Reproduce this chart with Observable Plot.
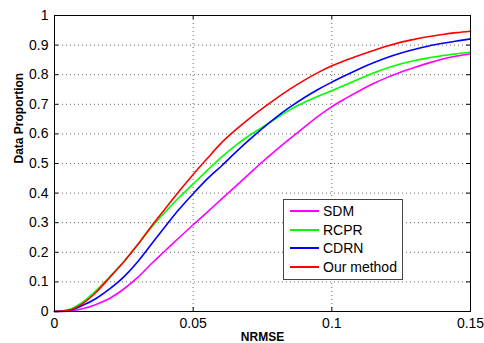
<!DOCTYPE html>
<html>
<head>
<meta charset="utf-8">
<script src="https://cdn.jsdelivr.net/npm/d3@7"></script>
<script src="https://cdn.jsdelivr.net/npm/@observablehq/plot@0.6"></script>
<style>
  html, body { margin: 0; padding: 0; background: #fff; }
  #wrap { position: relative; width: 484px; height: 343px; font-family: "Liberation Sans", Arial, sans-serif; }
  #legend { position: absolute; left: 283px; top: 199px; width: 118px; height: 77px; background: #fff;
            border: 1px solid #444; box-sizing: content-box; padding-top: 2px; }
  .row { display: flex; align-items: center; height: 18.5px; font-size: 14px; color: #000; }
  .sw { width: 29px; height: 2px; margin-left: 6px; margin-right: 4px; }
</style>
</head>
<body>
<div id="wrap"></div>
<script>
// ---- data ----
const methods = ["SDM", "RCPR", "CDRN", "Our method"];
const colors = ["#ff00ff", "#00ff00", "#0000ff", "#ff0000"];
const nrmse = [0, 0.005, 0.01, 0.015, 0.02, 0.025, 0.03, 0.035, 0.04, 0.045, 0.05, 0.055, 0.06, 0.065, 0.07, 0.075,
               0.08, 0.085, 0.09, 0.095, 0.1, 0.105, 0.11, 0.115, 0.12, 0.125, 0.13, 0.135, 0.14, 0.145, 0.15];
const sdm = [0, 0.001, 0.009, 0.024, 0.045, 0.076, 0.115, 0.162, 0.206, 0.25, 0.293, 0.335, 0.378, 0.42, 0.463, 0.506,
             0.546, 0.585, 0.622, 0.659, 0.692, 0.72, 0.746, 0.77, 0.791, 0.809, 0.825, 0.84, 0.853, 0.863, 0.871];
const rcpr = [0, 0.006, 0.031, 0.071, 0.118, 0.168, 0.225, 0.285, 0.337, 0.386, 0.431, 0.476, 0.52, 0.559, 0.593, 0.623,
              0.653, 0.682, 0.706, 0.727, 0.746, 0.766, 0.786, 0.806, 0.823, 0.837, 0.848, 0.857, 0.865, 0.871, 0.876];
const cdrn = [0, 0.003, 0.02, 0.044, 0.077, 0.117, 0.168, 0.228, 0.288, 0.346, 0.398, 0.447, 0.49, 0.535, 0.578, 0.619,
              0.657, 0.691, 0.722, 0.75, 0.775, 0.798, 0.82, 0.84, 0.858, 0.873, 0.886, 0.897, 0.906, 0.914, 0.921];
const ours = [0, 0.004, 0.026, 0.065, 0.116, 0.168, 0.226, 0.289, 0.348, 0.407, 0.463, 0.516, 0.568, 0.611, 0.65, 0.686,
              0.72, 0.752, 0.781, 0.807, 0.83, 0.849, 0.866, 0.882, 0.897, 0.91, 0.92, 0.929, 0.936, 0.942, 0.947];
const xTicks = [0, 0.05, 0.1, 0.15];
const yTicks = [0, 0.1, 0.2, 0.3, 0.4, 0.5, 0.6, 0.7, 0.8, 0.9, 1];
const xLabel = "NRMSE";
const yLabel = "Data Proportion";

// ---- build ----
const series = [sdm, rcpr, cdrn, ours];
const rows = [];
series.forEach((vals, i) => vals.forEach((v, j) => rows.push({x: nrmse[j], y: v, method: methods[i]})));

const W = 484, H = 343, mt = 15, mr = 14, mb = 32, ml = 54;
const pw = W - ml - mr, ph = H - mt - mb;
const tick = 4;

const chart = Plot.plot({
  width: W, height: H,
  marginTop: mt, marginRight: mr, marginBottom: mb, marginLeft: ml,
  style: {fontFamily: "'Liberation Sans', Arial, sans-serif", fontSize: "14px", color: "#000", background: "#fff"},
  x: {domain: [0, 0.15]},
  y: {domain: [0, 1]},
  color: {domain: methods, range: colors},
  marks: [
    Plot.gridX({ticks: xTicks.slice(1, -1), stroke: "#666", strokeOpacity: 1, strokeDasharray: "1,3"}),
    Plot.gridY({ticks: yTicks.slice(1, -1), stroke: "#666", strokeOpacity: 1, strokeDasharray: "1,3"}),
    Plot.line(rows, {x: "x", y: "y", z: "method", stroke: "method", strokeWidth: 1.6, curve: "monotone-x"}),
    Plot.ruleX(xTicks, {insetTop: ph - tick, stroke: "#000"}),
    Plot.ruleX(xTicks, {insetBottom: ph - tick, stroke: "#000"}),
    Plot.ruleY(yTicks, {insetRight: pw - tick, stroke: "#000"}),
    Plot.ruleY(yTicks, {insetLeft: pw - tick, stroke: "#000"}),
    Plot.frame({stroke: "#000"}),
    Plot.axisX({ticks: xTicks, tickSize: 0, tickPadding: 7, tickFormat: d => String(d), label: null, fontSize: 14}),
    Plot.axisY({ticks: yTicks, tickSize: 0, tickPadding: 6, tickFormat: d => String(d), label: null, fontSize: 14}),
    Plot.text([xLabel], {text: d => d, frameAnchor: "bottom", dy: 26, fontWeight: "bold", fontSize: 12, lineAnchor: "middle"}),
    Plot.text([yLabel], {text: d => d, frameAnchor: "left", dx: -35, rotate: -90, fontWeight: "bold", fontSize: 12, lineAnchor: "middle"})
  ]
});

const wrap = document.getElementById("wrap");
wrap.appendChild(chart);
const legend = document.createElement("div");
legend.id = "legend";
methods.forEach((m, i) => {
  const r = document.createElement("div");
  r.className = "row";
  const s = document.createElement("div");
  s.className = "sw";
  s.style.background = colors[i];
  const t = document.createElement("span");
  t.textContent = m;
  r.appendChild(s); r.appendChild(t);
  legend.appendChild(r);
});
wrap.appendChild(legend);
</script>
</body>
</html>
